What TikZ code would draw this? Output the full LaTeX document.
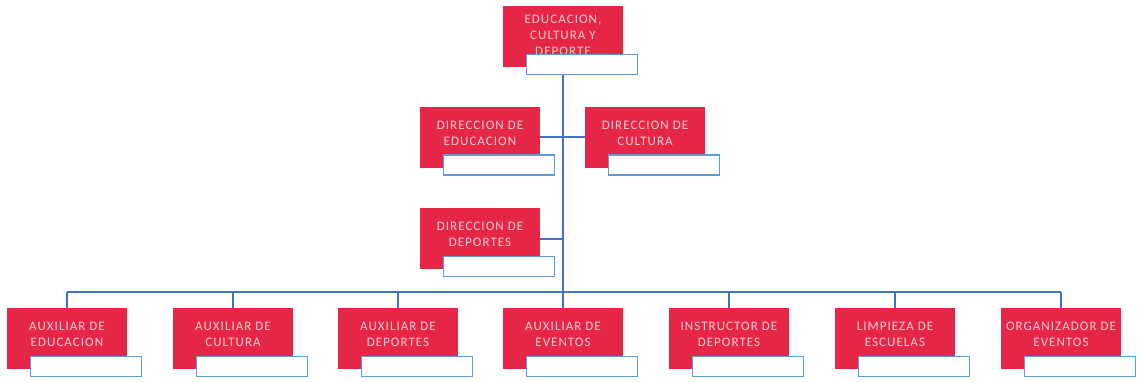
\documentclass[tikz,border=0pt]{standalone}
\usepackage{fontspec}
\setmainfont{Carlito}
\definecolor{boxred}{RGB}{230,38,70}
\definecolor{boxtext}{RGB}{248,205,210}
\definecolor{blueline}{RGB}{95,155,213}
\definecolor{connblue}{RGB}{68,114,196}
\newcommand\orgunit[5][4pt]{%
  \node[redbox] (#2) at (#3,#4) {};
  \node[lbl] (#2-t) at ([yshift=#1]#2.center) {#5};
  \node[whitebox] (#2-w) at ([xshift=19pt,yshift=-28pt]#2.center) {};
}
\begin{document}
\begin{tikzpicture}[x=1pt,y=-1pt,
  redbox/.style={fill=boxred, draw=none, minimum width=120pt, minimum height=61pt, inner sep=0pt},
  whitebox/.style={fill=white, draw=blueline, line width=1.5pt, minimum width=111pt, minimum height=20pt, inner sep=0pt},
  lbl/.style={text=boxtext, font=\fontsize{13}{16}\selectfont\addfontfeatures{LetterSpace=8}, align=center, inner sep=0pt},
  conn/.style={draw=connblue, line width=2pt}]
\useasboundingbox[fill=white] (0,0) rectangle (1141,383);

\orgunit[1pt]{top}{563}{36.5}{EDUCACION,\\CULTURA Y\\DEPORTE}
\orgunit{diredu}{480}{137}{DIRECCION DE\\EDUCACION}
\orgunit{dircul}{645}{137}{DIRECCION DE\\CULTURA}
\orgunit{dirdep}{480}{238.5}{DIRECCION DE\\DEPORTES}

\orgunit{b1}{67}{338.5}{AUXILIAR DE\\EDUCACION}
\orgunit{b2}{233}{338.5}{AUXILIAR DE\\CULTURA}
\orgunit{b3}{398}{338.5}{AUXILIAR DE\\DEPORTES}
\orgunit{b4}{563}{338.5}{AUXILIAR DE\\EVENTOS}
\orgunit{b5}{729}{338.5}{INSTRUCTOR DE\\DEPORTES}
\orgunit{b6}{895}{338.5}{LIMPIEZA DE\\ESCUELAS}
\orgunit{b7}{1061}{338.5}{ORGANIZADOR DE\\EVENTOS}

\coordinate (bus) at (563,292);
\draw[conn] (top.center |- top-w.south) -- (bus);
\draw[conn] (diredu.east) -- (dircul.west);
\draw[conn] (dirdep.east) -- (dirdep.east -| bus);
\draw[conn] (bus -| b1.north) -- (bus -| b7.north);
\foreach \i in {1,...,7} {\draw[conn] (bus -| b\i.north) -- (b\i.north);}
\end{tikzpicture}
\end{document}
